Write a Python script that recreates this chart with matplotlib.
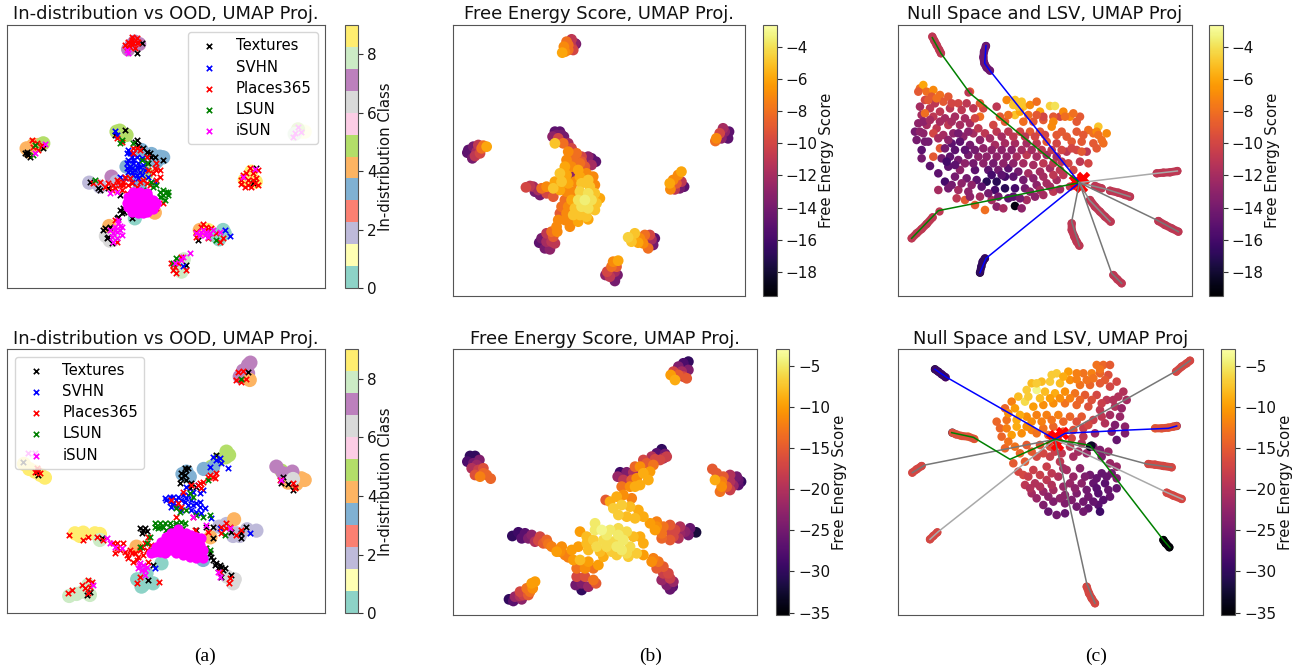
import matplotlib
matplotlib.use("Agg")
import matplotlib.pyplot as plt
import numpy as np

# ==============================================================================
#   Data (coordinates are the UMAP plane as seen on the page)
# ------------------------------------------------------------------------------
legend_names = ["Textures", "SVHN", "Places365", "LSUN", "iSUN"]
ood_colors = ["black", "blue", "red", "green", "magenta"]

# top row, in-distribution blobs (x, y, class)
id_top = [(385,148,7),(405,125,7),(418,132,7),(395,135,7),(80,445,4),(88,455,4),(100,435,4),(115,435,4),(90,445,4),
          (130,430,5),(360,392,5),(350,395,5),(380,405,5),(480,470,3),(455,462,3),(425,450,3),(490,472,3),(470,485,3),
          (268,548,2),(300,560,2),(335,530,7),(328,700,6),(318,708,6),(340,720,6),(330,722,6),(905,395,1),(915,395,1),(895,388,5),(885,402,8),
          (755,515,9),(768,545,9),(735,540,9),(670,690,0),(675,700,0),(658,718,0),(545,815,8),(532,800,8),(552,778,8),
          (405,655,0),(465,638,4),(328,678,4),(400,520,3),(420,560,3),(430,590,3),(380,500,3),(440,520,5),(350,545,2),
          (600,690,4),(625,690,9),(640,705,0)]
# bottom row
id_bot = [(72,432,9),(88,447,9),(105,455,9),(122,465,9),(135,473,9),(745,135,7),(752,128,7),(730,152,7),(720,170,7),(745,160,7),(750,180,4),
          (880,478,4),(905,475,4),(915,480,4),(890,492,4),(865,488,4),(845,452,5),(830,440,7),(878,455,7),(850,460,7),(880,477,6),
          (680,395,5),(678,412,5),(655,420,5),(635,440,5),(688,405,5),(548,462,3),(560,455,3),(612,447,3),(570,470,3),(640,442,3),
          (770,632,2),(742,628,2),(710,640,2),(680,612,2),(658,620,2),(720,648,2),(700,648,2),(703,598,4),
          (225,640,9),(250,638,9),(285,640,9),(300,642,9),(240,648,9),(208,828,8),(230,822,8),(250,815,8),(265,795,8),(270,825,8),
          (430,795,0),(460,790,0),(425,800,0),(485,730,0),(412,778,0),(700,790,6),(705,778,6),(682,770,6),(632,652,4),
          (610,720,3),(440,760,0),(300,660,8),(410,680,4)]

# out-of-distribution markers, top row
tex_top = [(425,130),(412,158),(80,455),(85,465),(75,460),(90,470),(130,445),(375,390),(345,405),(405,425),(430,445),(450,460),(465,470),(490,480),
           (445,490),(295,565),(325,565),(270,545),(360,585),(365,640),(360,630),(370,625),(350,655),(330,680),(310,690),(320,715),(335,728),
           (395,655),(760,550),(770,505),(595,720),(560,795),(410,420),(440,455),(455,470),(415,435),(300,570),(355,650),(372,635),(325,712),(315,685),(80,462)]
svhn_top = [(345,392),(350,405),(385,450),(395,470),(385,480),(400,490),(415,490),(390,500),(405,510),(420,515),(385,515),(400,525),(435,510),
            (445,530),(415,535),(395,545),(375,535),(360,530),(690,708),(675,690),(550,797),(465,545),(380,460),(410,470),(425,475),(395,505),(410,500),(400,480),(420,500),
            (390,460),(380,490),(410,525),(425,525),(380,505),(400,460),(430,495),(395,515)]
plc_top = [(395,110),(410,115),(385,125),(400,130),(415,125),(390,140),(405,145),(380,140),(395,120),(95,420),(110,430),(125,435),(100,440),(115,450),
           (350,415),(365,425),(400,445),(420,450),(440,470),(470,490),(480,510),(460,520),(470,540),(450,555),(430,540),(390,535),(370,545),(350,540),
           (340,555),(325,550),(345,565),(385,555),(410,560),(365,570),(380,580),(490,610),(470,625),(300,545),(280,550),(350,725),(345,660),
           (730,525),(745,540),(760,520),(775,510),(735,560),(755,560),(775,555),(725,540),(750,505),(770,535),(740,520),(760,540),(745,555),(725,552),(765,550),
           (590,695),(605,680),(620,680),(635,685),(590,710),(650,700),(625,715),(670,715),(660,725),(515,790),(525,800),(530,820),(545,770),(560,810),
           (535,790),(520,810),(400,460),(410,445),(370,555),(395,550),(480,530),(465,505),(445,510),(470,510),(355,545),(375,530),(315,560),(335,570),(360,555),(420,545),(440,550),
           (610,672),(622,690),(520,795),(410,130),(392,128),(375,135)]
lsun_top = [(360,430),(440,490),(425,480),(490,570),(505,585),(485,590),(495,600),(480,575),(500,575),(285,540),(430,570),(445,575),(460,560),(100,465),
            (105,435),(650,720),(530,775),(520,790),(365,420),(400,430),(470,555),(490,585),(505,575),(480,590),(455,545)]
isun_top = [(105,458),(135,433),(380,150),(385,158),(885,400),(895,380),(905,395),(880,410),(730,530),(765,508),(330,690),(345,680),(355,670),(360,690),
            (340,700),(365,680),(350,715),(600,705),(615,705),(630,700),(640,690),(660,695),(550,770),(570,760),(545,780),(525,790),(330,580),(350,575),
            (610,690),(625,712),(365,705),(350,695),(335,712),(355,660),(345,690),(360,678),(605,695),(620,695),(590,700),(340,725)]
isun_top_core = [(385,590),(400,585),(415,580),(430,585),(445,590),(460,600),(385,605),(400,600),(415,600),(430,600),(445,605),(465,615),
                 (385,620),(400,615),(415,615),(430,615),(445,620),(460,628),(395,635),(410,630),(425,632),(440,635),(415,640),(430,640),(382,610),(470,610),
                 (400,575),(420,575),(440,578)]

# out-of-distribution markers, bottom row
tex_bot = [(745,157),(115,465),(110,455),(70,425),(305,653),(430,630),(420,625),(440,632),(425,680),(460,735),(445,780),(545,460),(560,450),(545,475),
           (560,480),(575,490),(540,490),(590,500),(650,405),(640,620),(620,620),(590,630),(640,655),(740,620),(725,640),(725,655),(695,635),(850,470),
           (845,490),(865,492),(885,500),(880,510),(270,815),(262,825),(630,700),(640,720),(650,730),(665,740),(670,750),(655,745),(665,770),(695,765),
           (675,745),(615,690),(555,465),(570,505),(645,735),(555,445),(565,445),(425,640),(435,625),(660,735),(635,710)]
svhn_bot = [(640,410),(660,415),(650,420),(665,430),(630,440),(685,445),(500,540),(520,530),(510,545),(535,530),(550,525),(565,525),(575,540),(590,550),
            (555,545),(530,555),(515,560),(545,570),(600,560),(615,565),(605,580),(575,570),(560,500),(580,515),(600,520),(465,745),(750,638),(660,625),
            (635,595),(565,555),(590,575),(495,535),(520,550),(610,510),(545,540),(560,535),(580,555),(530,540),(510,530),(600,545),(595,495)]
plc_bot = [(113,450),(105,455),(120,460),(110,445),(715,155),(730,152),(710,180),(725,185),(740,178),(207,645),(250,660),(265,652),(290,650),(310,660),
           (340,670),(350,685),(370,670),(345,700),(380,705),(395,700),(415,710),(430,705),(400,725),(385,715),(445,725),(420,770),(410,790),(478,785),
           (445,650),(440,690),(615,685),(640,470),(650,460),(625,470),(610,485),(595,495),(575,495),(605,505),(550,515),(515,540),(535,550),(545,560),
           (585,630),(625,635),(530,590),(580,590),(665,620),(680,610),(690,620),(665,640),(710,645),(725,630),(880,490),(885,505),(840,480),(205,820),
           (215,810),(245,795),(265,780),(275,785),(255,805),(270,800),(265,820),(660,755),(690,775),(688,790),(420,690),(360,690),(405,700),
           (630,465),(645,475),(600,490),(350,670),(390,690),(410,720),(425,680),(435,670),(455,675),(375,695),(680,625)]
lsun_bot = [(725,178),(675,645),(465,610),(480,610),(495,610),(510,620),(530,615),(550,625),(475,625),(500,630),(540,575),(560,570),(530,565),(590,585),
            (610,590),(630,585),(450,650),(440,670),(460,690),(420,680),(620,685),(625,480),(570,520),(580,530),(630,690),(490,620),(520,625),(465,620),
            (545,605),(530,610),(510,610),(555,610),(480,620)]
isun_bot = [(845,480),(278,795),(620,615),(105,400),(85,400),(320,655),(330,670),(420,730),(435,750),(430,735),(415,745),(435,765),(655,755),(660,770),
            (690,625),(580,590),(345,680),(365,685),(425,750),(440,740),(418,735)]
isun_bot_core = [(470,680),(485,665),(500,650),(515,640),(530,635),(545,640),(560,640),(575,645),(590,650),(605,655),(480,695),(495,680),(510,665),(525,655),
                 (540,660),(555,660),(570,665),(585,670),(600,675),(610,690),(495,700),(510,690),(525,680),(540,680),(555,685),(570,690),(585,695),(600,700),
                 (530,700),(550,705),(570,710),(590,715),(610,715),(535,628),(465,695),(455,700)]

# free energy scatter, top row (x, y, score)
fe_top = [(405,130,-13),(395,118,-11),(380,125,-8),(372,140,-7),(367,158,-6),(385,150,-8),(400,150,-10),(408,132,-14),(385,135,-8),(395,140,-11),(375,155,-7),
          (85,450,-15),(82,458,-15),(97,475,-14),(100,440,-14),(110,455,-12),(115,435,-11),(125,445,-8),(140,440,-6),(130,437,-8),(105,468,-11),(120,460,-10),(92,460,-15),
          (860,405,-15),(850,385,-12),(865,415,-15),(840,400,-10),(830,415,-7),(827,423,-8),(845,415,-13),(868,395,-15),(855,395,-13),
          (725,515,-6),(715,525,-7),(700,540,-7),(690,550,-6),(692,568,-7),(710,550,-9),(725,545,-11),(733,560,-15),(720,565,-14),(705,568,-11),
          (565,712,-4.5),(585,700,-5),(575,725,-5),(600,715,-7),(615,705,-8),(630,705,-10),(645,715,-15),(640,735,-14),(625,745,-8),(610,730,-7),(595,728,-6),(635,718,-12),
          (535,782,-6),(520,785,-7),(515,800,-8),(502,815,-10),(497,825,-13),(510,830,-11),(525,843,-14),(533,825,-14),(525,815,-12),(530,800,-9),
          (350,680,-7),(335,695,-8),(320,700,-11),(305,715,-14),(298,728,-15),(315,745,-14),(330,748,-13),(345,730,-11),(340,710,-9),(352,695,-7),(320,725,-12),(335,725,-11),
          (258,562,-10),(270,558,-11),(285,575,-14),(300,585,-14),(320,580,-10),(320,560,-7),(305,565,-8),(340,590,-9),(280,560,-12),(295,570,-12),
          (345,395,-15),(360,395,-15),(372,410,-14),(338,410,-13),(345,430,-5),(355,415,-10),(370,430,-8),(395,445,-10),(385,455,-7),(350,405,-14),(365,405,-14),(385,430,-12),
          (468,485,-15),(455,475,-15),(440,480,-13),(425,470,-10),(410,460,-8),(455,495,-12),(435,500,-9),(445,470,-13),(425,485,-9),
          (380,480,-7),(400,480,-8),(420,490,-8),(375,500,-6),(395,500,-7),(415,510,-6),(440,520,-7),(360,520,-5),(380,525,-6),(400,522,-13),(420,530,-6),(445,540,-5),(460,530,-7),
          (345,545,-6),(365,545,-5),(385,550,-6),(405,545,-7),(425,550,-5),(450,560,-5),(465,555,-7),(340,565,-5),(360,570,-6),(380,575,-7),(400,575,-7),(420,575,-4.5),(445,580,-4),(465,580,-5),(480,595,-6),
          (375,600,-8),(395,600,-6),(415,600,-4),(435,600,-3.5),(455,600,-4),(470,610,-5),(365,620,-8),(385,620,-7),(405,625,-5),(425,620,-4),(445,625,-4),(465,630,-5),
          (360,640,-9),(380,640,-7),(400,645,-5),(420,645,-5),(440,650,-5),(355,660,-7),(375,660,-7),(395,665,-7),(415,665,-6),(390,680,-7),(445,658,-6)]
fe_bot = [(745,125,-30),(730,130,-28),(715,140,-24),(700,155,-17),(692,165,-10),(705,180,-9),(730,170,-17),(745,150,-24),(725,155,-21),(715,165,-15),(740,175,-15),
          (90,408,-30),(105,408,-30),(82,425,-28),(100,430,-25),(118,420,-24),(95,445,-20),(115,450,-18),(130,445,-16),(120,470,-12),(140,465,-14),(152,476,-14),
          (817,447,-15),(830,460,-15),(825,480,-9),(845,500,-11),(860,500,-15),(880,497,-22),(903,485,-30),(890,470,-25),(870,465,-20),(850,470,-15),(845,485,-12),(870,485,-20),(895,480,-26),
          (665,388,-30),(650,400,-27),(675,402,-25),(635,410,-20),(660,420,-17),(620,430,-15),(640,435,-13),(680,410,-18),(600,440,-11),(610,460,-9),(630,455,-10),
          (540,457,-29),(560,457,-24),(580,457,-20),(533,470,-22),(550,480,-19),(575,480,-15),(590,475,-11),(545,500,-13),(570,500,-11),(600,495,-9),(625,480,-9),(585,500,-9),
          (497,540,-15),(510,545,-9),(530,530,-9),(550,525,-11),(575,535,-12),(520,565,-7),(545,555,-7),(570,560,-8),(595,570,-9),(535,585,-7),(560,590,-8),(585,595,-8),(610,590,-9),
          (630,610,-10),(650,605,-12),(690,615,-15),(720,620,-20),(750,625,-26),(768,637,-32),(745,645,-25),(715,655,-20),(690,660,-15),(665,640,-13),(645,630,-10),(690,635,-17),(720,640,-22),(670,620,-13),
          (465,610,-5),(485,630,-4),(510,630,-5),(535,625,-6),(440,650,-8),(420,635,-10),(460,660,-7),(490,660,-6),(520,665,-6),(550,660,-5),(580,650,-8),(600,650,-9),(610,670,-9),(570,680,-6),(545,690,-5),(515,695,-7),(480,695,-8),(445,690,-8),(415,680,-10),(590,700,-7),(565,710,-7),(530,705,-7),(610,705,-10),(490,710,-9),
          (465,630,-5),(500,645,-5),(535,645,-5),(560,635,-6),(440,670,-8),(470,680,-6),(500,680,-6),(530,680,-5),(560,700,-6),
          (217,648,-30),(235,637,-29),(255,640,-27),(275,645,-23),(300,650,-17),(320,660,-14),(245,655,-27),(285,665,-20),(310,670,-15),(335,680,-12),(350,695,-10),(365,680,-11),(375,705,-12),(395,690,-10),
          (400,720,-10),(420,720,-8),(445,725,-10),(410,745,-13),(435,745,-11),(460,745,-13),(475,735,-10),(410,770,-17),(435,770,-16),(460,780,-13),(407,795,-25),(425,810,-30),(445,800,-22),(468,790,-15),(425,790,-24),
          (635,725,-11),(650,745,-15),(670,760,-18),(690,775,-18),(665,780,-22),(680,795,-24),(698,800,-27),(690,808,-26),(640,715,-12),
          (275,790,-10),(278,805,-11),(260,805,-13),(240,815,-17),(265,825,-15),(225,830,-22),(207,838,-30),(220,843,-27),(245,838,-23),(270,815,-13),
          # second pass for the arms, which read thin on the first one
          (265,655,-24),(295,662,-17),(325,672,-13),(360,695,-11),(385,712,-12),(655,725,-13),(670,740,-15),(685,760,-17),(700,785,-22),(650,620,-11),(705,630,-17),(735,635,-23),(700,650,-17),(665,655,-14),
          (585,440,-14),(610,420,-17),(645,418,-17),(670,415,-20),(250,825,-18),(240,828,-20),(285,785,-10),(110,435,-22),(130,460,-14),(105,465,-16),(840,515,-13),(870,510,-18),(895,495,-27)]

# null space / LSV panels: cloud of samples around the origin (x, y, score)
cloud_top = [(120,265,-8),(130,255,-6),(115,275,-9),(140,275,-8),(160,270,-7),(180,285,-8),(155,290,-9),(135,300,-10),(165,310,-11),(190,305,-9),(205,290,-9),
             (120,320,-12),(150,325,-11),(180,335,-11),(210,325,-11),(235,310,-10),(260,310,-11),(125,345,-12),(135,340,-8),(160,350,-11),(195,355,-12),(225,350,-12),
             (115,370,-13),(140,375,-12),(170,385,-11),(205,375,-11),(240,375,-12),(270,370,-12),(105,395,-14),(130,400,-13),(160,400,-10),(190,405,-12),(220,400,-13),
             (250,410,-13),(280,400,-12),(110,420,-14),(145,425,-14),(180,445,-9),(215,430,-15),(240,425,-15),(270,435,-14),(300,420,-13),(125,450,-15),(160,470,-9),
             (125,475,-14),(150,498,-15),(185,475,-14),(210,470,-15),(235,480,-14),(265,465,-14),(295,470,-13),(175,520,-15),(205,500,-15),(240,510,-13),(285,510,-15),
             (195,545,-16),(225,530,-14),(260,535,-14),(290,540,-15),(175,570,-12),(205,565,-14),(235,570,-12),(265,575,-13),(230,595,-11),(255,600,-9),(285,615,-9),(270,590,-13),
             (300,590,-12),(315,630,-8),(335,600,-12),(350,620,-13),(370,625,-12),(405,618,-19),(425,625,-13),(400,590,-15),(440,600,-12),(465,590,-13),(490,585,-12),(520,575,-11),(540,568,-12),(570,560,-11),
             (320,545,-17),(350,545,-17),(375,530,-16),(345,570,-16),(375,565,-17),(405,565,-16),(435,565,-14),(470,555,-13),(500,550,-12),(530,540,-12),
             (325,510,-15),(355,510,-14),(385,505,-15),(415,515,-14),(445,520,-12),(480,515,-12),(510,505,-12),(540,510,-11),(565,490,-10),(600,485,-11),(625,490,-10),
             (320,470,-13),(350,470,-13),(380,470,-13),(410,470,-12),(440,465,-11),(470,470,-12),(500,465,-12),(530,470,-12),(560,455,-11),(590,450,-10),(620,455,-11),
             (345,435,-12),(375,430,-12),(405,430,-12),(440,430,-12),(470,430,-11),(500,425,-9),(530,430,-10),(575,425,-9),(605,425,-9),(640,430,-9),(665,420,-8),
             (315,400,-11),(350,395,-11),(385,395,-11),(420,395,-10),(450,395,-9),(480,395,-9),(515,380,-7),(545,395,-9),(590,395,-9),(625,390,-8),(655,380,-5),(680,400,-7),(670,430,-8),
             (300,350,-8),(340,375,-10),(375,365,-9),(405,345,-5),(430,365,-8),(460,365,-9),(490,360,-9),(540,350,-10),(570,350,-7),(600,350,-9),(640,400,-8),(650,395,-7),
             (310,325,-10),(350,320,-11),(380,300,-7),(405,300,-5),(425,305,-5),(430,320,-5),(450,315,-7),(480,335,-6),(510,318,-4.5),(525,318,-4),(550,335,-7),(580,340,-8),(470,305,-8),(490,350,-10),(270,275,-9),(300,310,-9),
             # second pass, filling the gaps between the dots above
             (145,300,-9),(170,295,-8),(215,310,-10),(245,330,-11),(280,325,-11),(130,365,-13),(150,360,-12),(180,365,-12),(215,365,-12),(255,355,-12),(285,355,-10),
             (120,395,-13),(175,415,-12),(205,420,-13),(235,400,-14),(265,395,-13),(295,385,-11),(135,425,-14),(195,445,-14),(225,450,-15),(255,450,-15),(285,450,-14),(310,445,-13),
             (200,485,-16),(225,495,-15),(255,490,-13),(280,490,-14),(310,490,-13),(340,490,-14),(370,490,-13),(400,490,-13),(430,490,-12),(460,495,-12),(490,490,-11),(520,490,-11),(545,485,-11),
             (215,555,-14),(245,550,-13),(275,555,-13),(305,560,-15),(325,580,-14),(355,590,-14),(385,595,-15),(420,595,-14),(450,575,-13),(480,570,-12),(510,560,-12),
             (335,525,-16),(365,525,-15),(400,530,-15),(430,540,-14),(460,535,-13),(490,530,-12),(520,525,-11),(550,525,-11),(580,510,-10),
             (335,450,-13),(365,450,-13),(395,450,-13),(425,450,-12),(455,450,-12),(485,450,-11),(515,450,-11),(545,450,-10),(575,445,-10),(605,455,-9),(650,445,-9),
             (330,415,-12),(365,410,-12),(400,410,-11),(435,410,-11),(465,410,-10),(495,405,-10),(530,405,-9),(560,410,-9),(610,405,-9),(655,405,-8),
             (360,350,-9),(385,345,-8),(420,335,-6),(445,345,-8),(470,345,-9),(520,350,-9),(555,350,-8),(590,365,-9),(520,365,-7),(400,315,-5),(415,320,-5)]
cloud_bot = [(650,135,-13),(670,135,-14),(690,135,-15),(635,160,-12),(660,160,-14),(685,165,-16),(610,160,-13),(590,160,-12),(565,155,-10),(530,160,-7),(710,185,-17),
             (730,215,-20),(740,240,-21),(715,230,-20),(690,200,-17),(660,190,-15),(630,195,-14),(600,195,-13),(570,180,-11),(540,190,-8),(510,185,-7),(485,185,-8),(455,190,-8),(440,210,-7),
             (470,210,-4),(495,215,-8),(525,220,-9),(555,215,-11),(585,220,-13),(615,225,-15),(650,225,-17),(680,240,-19),(705,260,-20),(415,230,-8),(395,245,-12),(375,265,-14),
             (405,265,-10),(435,245,-6),(460,260,-10),(490,255,-11),(520,250,-11),(555,250,-13),(590,255,-14),(625,260,-16),(660,270,-19),(690,285,-21),(720,290,-22),(735,320,-23),
             (350,305,-14),(380,300,-13),(410,300,-9),(440,290,-11),(470,285,-12),(500,285,-12),(535,285,-12),(570,290,-14),(605,290,-15),(640,300,-18),(675,310,-20),(705,315,-24),
             (365,350,-14),(395,345,-10),(425,340,-11),(455,330,-12),(490,325,-13),(520,320,-14),(550,335,-15),(580,330,-16),(610,325,-18),(645,340,-22),(710,360,-26),(735,340,-24),
             (375,385,-14),(405,380,-13),(440,375,-15),(480,375,-16),(510,380,-16),(570,380,-19),(605,370,-20),(660,390,-24),(685,395,-22),(400,430,-15),(435,425,-15),(470,410,-17),(510,410,-18),(545,400,-19),(580,410,-21),(620,400,-22),(665,410,-24),(690,430,-22),
             (430,465,-17),(460,450,-18),(500,440,-18),(540,425,-19),(560,450,-21),(600,445,-23),(630,465,-25),(665,460,-26),(695,460,-25),(710,440,-22),
             (435,495,-19),(465,490,-20),(500,480,-19),(535,470,-20),(570,490,-22),(605,490,-23),(640,490,-26),(675,490,-27),(710,505,-26),
             (455,520,-21),(490,515,-22),(520,510,-21),(555,525,-23),(590,520,-24),(625,530,-25),(655,520,-27),(690,530,-26),
             (490,555,-24),(520,545,-24),(555,550,-24),(590,560,-25),(625,565,-26),(655,555,-27),(505,575,-26),(530,585,-25),(555,580,-26),(610,575,-25),(660,575,-29),(630,380,-34),
             # second pass, filling the gaps between the dots above
             (660,148,-13),(640,175,-13),(675,180,-15),(620,180,-13),(590,178,-12),(550,170,-9),(515,165,-7),(470,190,-7),(445,230,-7),(480,235,-8),(510,235,-10),(540,235,-11),(570,235,-12),(600,240,-14),(635,240,-16),(665,250,-18),(700,240,-20),(725,265,-22),
             (385,280,-11),(420,285,-9),(455,305,-11),(485,305,-12),(515,300,-13),(550,305,-14),(590,305,-16),(625,315,-17),(665,290,-19),(695,335,-24),(360,325,-14),(380,325,-12),(410,320,-9),(440,320,-11),(470,340,-13),(505,345,-14),(575,355,-17),(610,350,-19),
             (385,365,-13),(420,400,-14),(455,395,-15),(490,400,-17),(525,395,-18),(595,395,-21),(640,380,-24),(415,455,-17),(445,470,-18),(480,465,-18),(515,460,-19),(550,445,-21),(580,470,-22),(615,470,-24),(650,475,-26),(680,470,-26),(710,475,-24),
             (450,505,-20),(480,500,-20),(515,495,-20),(550,500,-22),(585,505,-23),(620,510,-25),(650,505,-27),(685,510,-26),(470,535,-22),(505,530,-23),(540,535,-23),(575,540,-24),(610,545,-25),(640,545,-26),(670,540,-27)]

# chains of samples along the singular vector directions (x, y, score)
chains_top = [[(157,110,-11),(163,122,-11),(170,135,-11),(178,150,-11),(183,160,-11)],
              [(318,138,-16),(312,155,-15),(310,172,-14),(313,190,-14),(320,203,-14),(330,212,-13)],
              [(300,818,-19),(304,800,-17),(308,785,-16),(315,775,-15)],
              [(95,715,-11),(110,700,-11),(125,687,-11),(140,672,-11),(158,652,-11)],
              [(178,632,-11)],[(265,275,-11)],
              [(830,520,-11),(850,518,-11),(870,517,-11),(892,513,-11)],
              [(645,558,-11),(665,565,-11)],
              [(690,572,-11),(715,578,-11),(735,585,-11),(750,590,-11)],
              [(630,600,-11),(645,620,-11),(660,635,-11),(675,650,-11),(692,665,-11)],
              [(835,663,-11),(855,675,-11),(875,685,-11),(895,695,-11)],
              [(575,670,-11),(575,690,-11),(583,710,-11),(590,725,-11),(598,737,-11)],
              [(700,825,-11),(712,838,-11),(725,850,-11)]]
chains_bot = [[(165,148,-35),(175,155,-32),(185,163,-27),(197,172,-23)],
              [(825,325,-12),(845,325,-12),(865,323,-13),(880,320,-16),(890,318,-27)],
              [(217,338,-32),(228,343,-20),(245,348,-9),(265,350,-8),(283,357,-11)],
              [(632,376,-33)],
              [(850,660,-35),(857,670,-35),(868,682,-35)],
              [(97,458,-17),(110,448,-17),(125,438,-17)],
              [(150,658,-17),(160,648,-17),(172,637,-17)],
              [(620,800,-17),(627,820,-17),(635,835,-17),(645,850,-17)],
              [(805,432,-17),(825,434,-17),(850,438,-17),(875,442,-17)],
              [(860,518,-17),(880,527,-17),(905,537,-17)],
              [(888,155,-17),(905,140,-17),(920,130,-17),(930,122,-17)]]

# direction lines, from the origin out along the chain (x values, y values)
lines_top = [("blue", [318,314,330,598], [137,190,212,548]),
             ("blue", [598,318,300], [548,775,818]),
             ("green", [157,183,270,598], [113,160,280,548]),
             ("green", [598,175,95], [548,632,715]),
             ("#a9a9a9", [598,830,892], [548,520,513]),
             ("#8a8a8a", [598,680,750], [548,568,590]),
             ("#8a8a8a", [598,628,690], [548,600,665]),
             ("#777777", [598,830,895], [548,660,695]),
             ("#777777", [598,575,598], [548,665,738]),
             ("#777777", [598,695,725], [548,820,850])]
lines_bot = [("#777777", [525,135,97], [358,435,458]),
             ("#a9a9a9", [525,175,150], [358,635,658]),
             ("#777777", [525,620,645], [358,790,850]),
             ("#777777", [525,800,875], [358,432,442]),
             ("#a9a9a9", [525,855,908], [358,515,538]),
             ("#777777", [525,885,930], [358,155,122]),
             ("blue", [165,200,380,525], [148,172,275,358]),
             ("blue", [525,555,750,865,890], [358,340,330,325,318]),
             ("green", [215,280,390,525], [338,352,418,358]),
             ("green", [525,630,665,850,870], [358,376,420,660,683])]
origin_top = [(585,543),(610,535),(603,558),(592,550)]
origin_bot = [(525,348),(545,340),(530,372),(515,357)]

# colourbar ranges and ticks
fe_range_top = (-19.5, -2.65)
fe_range_bot = (-35.3, -3.0)
fe_ticks_top = [-18, -16, -14, -12, -10, -8, -6, -4]
fe_ticks_bot = [-35, -30, -25, -20, -15, -10, -5]
class_ticks = [0, 2, 4, 6, 8]

# ------------------------------------------------------------------------------
W, H = 1296, 670
fig = plt.figure(figsize=(W / 100, H / 100), dpi=100)


def box(x0, y0, x1, y1):
    # pixel box on the page to figure fraction
    return [x0 / W, 1 - y1 / H, (x1 - x0) / W, (y1 - y0) / H]


def xy(pts):
    a = np.array(pts, dtype=float)
    return a[:, 0], a[:, 1]


def finish(ax, cax, sc, title, label, ticks, lims):
    ax.set_xlim(lims[0], lims[1])
    ax.set_ylim(lims[3], lims[2])
    ax.set_xticks([])
    ax.set_yticks([])
    ax.set_title(title, fontsize=12.9, pad=4, color="#111111")
    for s in ax.spines.values():
        s.set_color("#555555")
    cb = fig.colorbar(sc, cax=cax)
    cb.set_ticks(ticks)
    cb.ax.tick_params(labelsize=11, length=3.5, width=0.8, color="#333333", pad=3, labelcolor="#111111")
    cb.set_label(label, fontsize=10.7, labelpad=1, color="#111111")
    cb.outline.set_edgecolor("#555555")


def ood_panel(pos, cpos, blobs, series, core, lims, legend_loc):
    ax = fig.add_axes(box(*pos))
    cax = fig.add_axes(box(*cpos))
    bx = np.array(blobs, dtype=float)
    sc = ax.scatter(bx[:, 0], bx[:, 1], c=bx[:, 2], cmap="Set3", vmin=0, vmax=9, s=105, linewidths=0)
    for name, col, pts in zip(legend_names, ood_colors, series):
        x, y = xy(pts)
        ax.scatter(x, y, marker="x", s=15, c=col, linewidths=1.2, label=name)
    x, y = xy(core)
    ax.scatter(x, y, marker="o", s=55, c="magenta", linewidths=0)
    ax.legend(loc=legend_loc, fontsize=10.7, framealpha=0.8, borderpad=0.4, labelspacing=0.42)
    finish(ax, cax, sc, "In-distribution vs OOD, UMAP Proj.", "In-distribution Class", class_ticks, lims)


def fe_panel(pos, cpos, pts, vr, ticks, lims):
    ax = fig.add_axes(box(*pos))
    cax = fig.add_axes(box(*cpos))
    a = np.array(pts, dtype=float)
    # plot low scores first so the bright core stays on top
    order = np.argsort(a[:, 2])
    sc = ax.scatter(a[order, 0], a[order, 1], c=a[order, 2], cmap="inferno", vmin=vr[0], vmax=vr[1], s=60, linewidths=0)
    finish(ax, cax, sc, "Free Energy Score, UMAP Proj.", "Free Energy Score", ticks, lims)


def null_panel(pos, cpos, cloud, chains, lines, origin, vr, ticks, lims):
    ax = fig.add_axes(box(*pos))
    cax = fig.add_axes(box(*cpos))
    norm = plt.Normalize(vr[0], vr[1])
    a = np.array(cloud, dtype=float)
    sc = ax.scatter(a[:, 0], a[:, 1], c=a[:, 2], cmap="inferno", norm=norm, s=38, linewidths=0)
    for ch in chains:
        c = np.array(ch, dtype=float)
        # the samples sit so close together they read as one thick stroke
        ax.plot(c[:, 0], c[:, 1], color=plt.cm.inferno(norm(c[:, 2].mean())), linewidth=5.8, solid_capstyle="round")
        ax.scatter(c[:, 0], c[:, 1], c=c[:, 2], cmap="inferno", norm=norm, s=36, linewidths=0)
    x, y = xy(origin)
    ax.scatter(x, y, marker="X", s=95, c="red", linewidths=0)
    for col, lx, ly in lines:
        ax.plot(lx, ly, color=col, linewidth=1.1)
    finish(ax, cax, sc, "Null Space and LSV, UMAP Proj", "Free Energy Score", ticks, lims)


ood_panel((7.3, 25, 325, 288), (344.5, 25, 358, 288), id_top,
          [tex_top, svhn_top, plc_top, lsun_top, isun_top], isun_top_core, (22, 976, 75, 864), "upper right")
ood_panel((7.3, 349.3, 325, 613.3), (344.5, 349.3, 358, 613.3), id_bot,
          [tex_bot, svhn_bot, plc_bot, lsun_bot, isun_bot], isun_bot_core, (22, 976, 88, 880), "upper left")
fe_panel((452.7, 25, 745, 296), (763.3, 25, 776.7, 296), fe_top, fe_range_top, fe_ticks_top, (38, 916, 75, 888))
fe_panel((452.7, 349.3, 756.7, 615), (775.7, 349.3, 789.3, 615), fe_bot, fe_range_bot, fe_ticks_bot, (38, 950, 88, 885))
null_panel((898.3, 25, 1191.7, 296), (1209.3, 25, 1222.7, 296), cloud_top, chains_top, lines_top, origin_top,
           fe_range_top, fe_ticks_top, (55, 935, 75, 888))
null_panel((898.3, 349.3, 1202.7, 615), (1221.3, 349.3, 1235, 615), cloud_bot, chains_bot, lines_bot, origin_bot,
           fe_range_bot, fe_ticks_bot, (55, 968, 88, 885))

for cap, px in zip(["(a)", "(b)", "(c)"], [205, 651, 1096]):
    fig.text(px / W, 1 - 656 / H, cap, family="Liberation Serif", fontsize=14, ha="center", va="center")

fig.savefig("out.png", dpi=100)
